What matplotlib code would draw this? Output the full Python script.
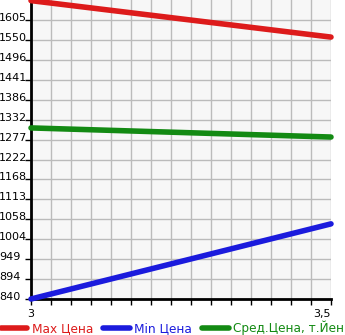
import matplotlib
matplotlib.use("Agg")
import matplotlib.pyplot as plt
from matplotlib.ticker import FixedLocator
import matplotlib.transforms as mtransforms
import numpy as np

x_vals = [3.0, 3.5]
max_price = [1658, 1558]
min_price = [840, 1046]
avg_price = [1309, 1284]
y_ticks = [840, 894, 949, 1004, 1058, 1113, 1168, 1222, 1277, 1332, 1386, 1441, 1496, 1550, 1605]
x_tick_labels = ["3", "3,5"]
legend_labels = ["Max Цена", "Min Цена", "Сред.Цена, т.Йен"]
colors = ["#dd1b1b", "#1b1bdd", "#138a13"]

fig = plt.figure(figsize=(3.45, 3.35), dpi=100)
ax = fig.add_axes([31/345, 36/335, 300/345, 299/335])
ax.set_facecolor("#f7f7f7")
ax.set_xlim(3.0, 3.5)
ax.set_ylim(840, 1659.7)

ax.yaxis.set_major_locator(FixedLocator(y_ticks))
ax.xaxis.set_major_locator(FixedLocator(x_vals))
ax.xaxis.set_minor_locator(FixedLocator(list(np.linspace(3.0, 3.5, 16))))
ax.set_yticklabels([str(v) for v in y_ticks])
ax.set_xticklabels(x_tick_labels)
ax.grid(True, which="both", axis="x", color="#bbbbbb", lw=1)
ax.grid(True, which="major", axis="y", color="#bbbbbb", lw=1)
ax.set_axisbelow(True)

for s in ["top", "right"]:
    ax.spines[s].set_visible(False)
for s in ["left", "bottom"]:
    ax.spines[s].set_linewidth(2)
    ax.spines[s].set_color("black")

ax.tick_params(axis="y", length=4, width=1, labelsize=8, pad=1)
ax.tick_params(axis="x", which="both", length=4, width=1, labelsize=8, pad=3)
for lab in ax.get_yticklabels():
    lab.set_horizontalalignment("left")
    lab.set_transform(lab.get_transform() + mtransforms.ScaledTranslation(-25/100, 3/100, fig.dpi_scale_trans))
labs = ax.get_xticklabels()
labs[-1].set_horizontalalignment("right")

for ys, c, l in zip([max_price, min_price, avg_price], colors, legend_labels):
    ax.plot(x_vals, ys, color=c, lw=4, solid_capstyle="round", label=l, clip_on=False, zorder=3)

leg = fig.legend(loc="center", bbox_to_anchor=(0.5, 0.021), ncol=3, frameon=False,
                 fontsize=8.7, handlelength=2.2, handletextpad=0.4, columnspacing=0.8,
                 borderpad=0, borderaxespad=0)
for t, c in zip(leg.get_texts(), colors):
    t.set_color(c)

fig.savefig("out.png", dpi=100)
